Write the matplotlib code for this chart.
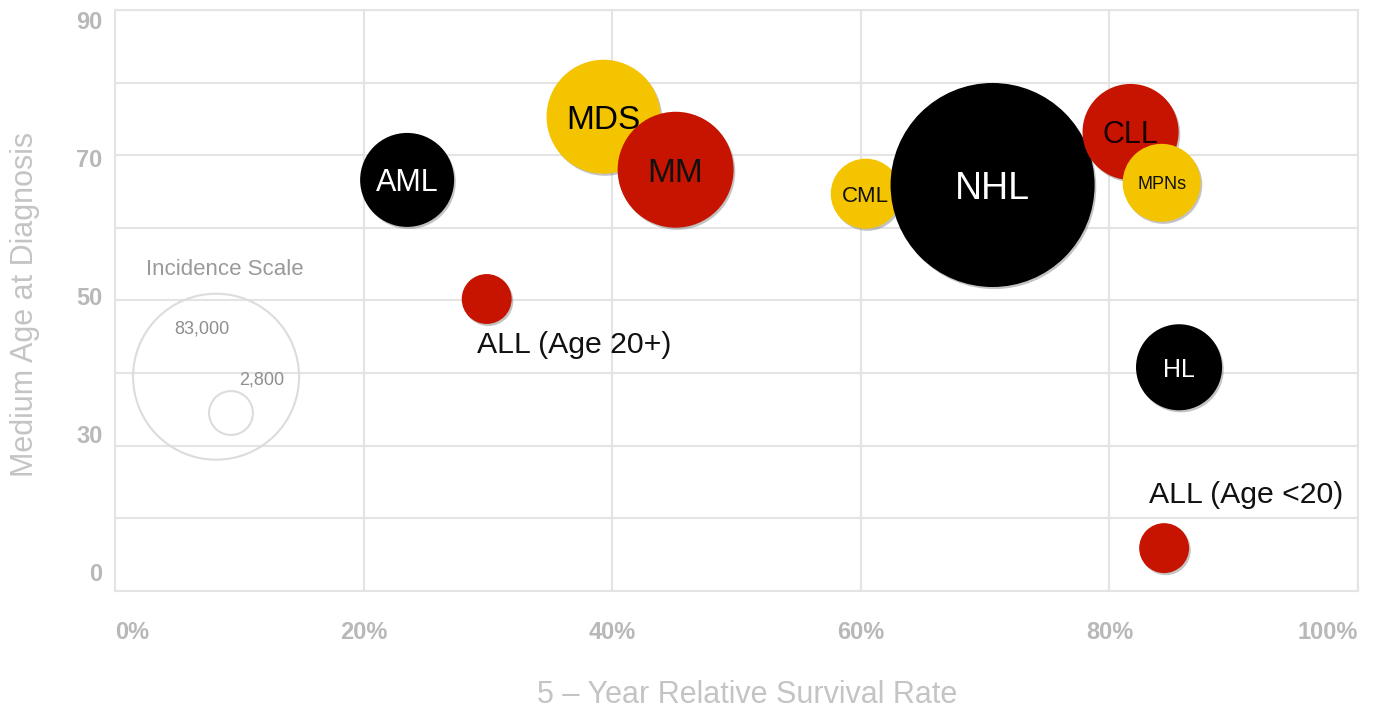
import matplotlib
matplotlib.use("Agg")
import matplotlib.pyplot as plt
import matplotlib.patheffects as pe
import numpy as np

plt.rcParams['font.family'] = ['Liberation Sans', 'DejaVu Sans']

# data
names = ['AML', 'ALL (Age 20+)', 'MDS', 'MM', 'CML', 'NHL', 'CLL', 'MPNs', 'HL', 'ALL (Age <20)']
survival = [23.5, 29.9, 39.3, 45.1, 60.4, 70.6, 81.7, 84.2, 85.6, 84.4]
median_age = [66.6, 50.2, 75.3, 68.0, 64.7, 65.9, 73.2, 66.2, 40.8, 15.9]
incidence = [26600, 7500, 39100, 40500, 14800, 125400, 27800, 18300, 22300, 7500]
colors = ['black', 'red', 'yellow', 'red', 'yellow', 'black', 'red', 'yellow', 'black', 'red']

scale_values = [83000, 5800]
scale_labels = ['83,000', '2,800']

xticks = [0, 20, 40, 60, 80, 100]
xtick_labels = ['0%', '20%', '40%', '60%', '80%', '100%']
ytick_labels = ['90', '70', '50', '30', '0']

palette = {'black': '#000000', 'red': '#C61400', 'yellow': '#F5C400'}

# marker area (pt^2) so that 83,000 gives a circle of ~83 px radius
def bubble(v):
    return v * (1.44 * 83) ** 2 / 83000.0

fig = plt.figure(figsize=(13.79, 7.12), dpi=100)
ax = fig.add_axes([0.0834, 0.170, 0.9014, 0.816])
ax.set_xlim(0, 100)
ax.set_ylim(10, 90)

grid_c = '#e4e4e4'
ax.set_xticks(range(0, 101, 20))
ax.set_yticks(range(10, 91, 10))
ax.grid(True, color=grid_c, linewidth=1.5, zorder=0)
for s in ax.spines.values():
    s.set_color(grid_c)
    s.set_linewidth(1.5)
ax.tick_params(length=0, labelleft=False, labelbottom=False)

tick_c = '#b8b8b8'
for i, (xv, lab) in enumerate(zip(xticks, xtick_labels)):
    ha = 'left' if i == 0 else ('right' if i == len(xticks) - 1 else 'center')
    ax.annotate(lab, (xv, 10), xytext=(0, -30), textcoords='offset points',
                ha=ha, va='center', fontsize=17, fontweight='bold', color=tick_c)
# y labels are spread evenly along the axis, as in the original slide
for yf, lab in zip(np.linspace(0.979, 0.0275, len(ytick_labels)), ytick_labels):
    ax.annotate(lab, (0, yf), xycoords='axes fraction', xytext=(-9, 0),
                textcoords='offset points', ha='right', va='center',
                fontsize=17, fontweight='bold', color=tick_c)

# incidence scale legend
sc_c = '#dcdcdc'
ax.scatter([8.13, 9.33], [39.5, 34.5], s=[bubble(v) for v in scale_values],
           facecolors='none', edgecolors=sc_c, linewidths=1.5, zorder=2)
ax.text(8.85, 54.2, 'Incidence Scale', ha='center', va='center', fontsize=16, color='#9a9a9a')
ax.text(7.0, 46.1, scale_labels[0], ha='center', va='center', fontsize=13, color='#8e8e8e')
ax.text(11.8, 39.05, scale_labels[1], ha='center', va='center', fontsize=13, color='#8e8e8e')

shadow = [pe.SimplePatchShadow(offset=(1.2, -1.5), shadow_rgbFace='#555555', alpha=0.35), pe.Normal()]

inside = {'AML': (22, 'white'), 'MDS': (24, 'black'), 'MM': (24, '#111111'),
          'CML': (16, '#111111'), 'NHL': (27, 'white'), 'CLL': (22, '#1a0000'),
          'MPNs': (13, '#111111'), 'HL': (18, 'white')}
outside = {'ALL (Age 20+)': (63, -33), 'ALL (Age <20)': (59, 38)}

for k, name in enumerate(names):
    sc = ax.scatter(survival[k], median_age[k], s=bubble(incidence[k]),
                    color=palette[colors[k]], linewidths=0, zorder=3 + k)
    sc.set_path_effects(shadow)
    if name in inside:
        fs, tc = inside[name]
        ax.text(survival[k], median_age[k], name, ha='center', va='center_baseline',
                fontsize=fs, color=tc, zorder=20)
    else:
        ax.annotate(name, (survival[k], median_age[k]), xytext=outside[name],
                    textcoords='offset points', ha='center', va='center',
                    fontsize=21.8, color='#111111', zorder=20)

fig.text(0.5417, 0.024, '5 \u2013 Year Relative Survival Rate', ha='center', va='center',
         fontsize=22, color='#c4c4c4')
fig.text(0.018, 0.572, 'Medium Age at Diagnosis', ha='center', va='center',
         rotation=90, fontsize=22, color='#c4c4c4')

fig.savefig('out.png', dpi=100)
